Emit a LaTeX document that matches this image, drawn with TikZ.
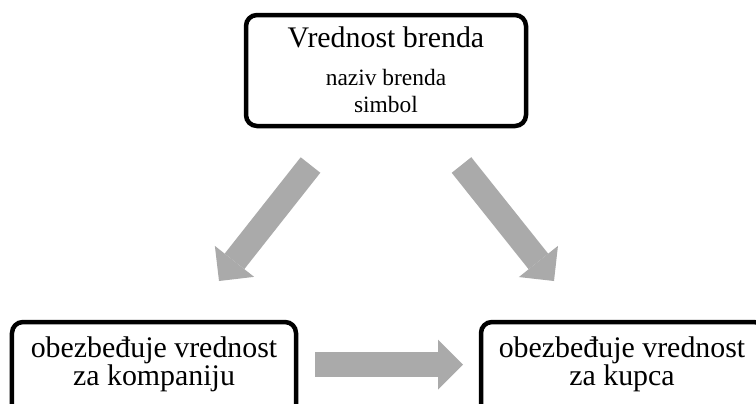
\documentclass[tikz,border=0pt]{standalone}
\usepackage{fontspec}
\setmainfont{Liberation Serif}
\usetikzlibrary{arrows.meta}
\definecolor{arrowgray}{RGB}{170,170,170}
\tikzset{
  box/.style={draw=black, line width=4.5bp, rounded corners=11bp, fill=white,
              minimum height=111bp, inner sep=0pt},
  bigtext/.style={anchor=base, inner sep=0pt, font=\fontsize{30}{36}\selectfont},
  smalltext/.style={anchor=base, inner sep=0pt, font=\fontsize{23.5}{28}\selectfont},
  blockarrow/.style={draw=arrowgray, line width=25bp,
              -{Triangle[length=25bp, width=50bp, line width=0pt]}}
}
\begin{document}
\begin{tikzpicture}[x=1bp, y=-1bp]
  \clip (0,0) rectangle (756,403);
  \fill[white] (0,0) rectangle (756,403);

  % boxes
  \node[box, minimum width=280bp] (brand) at (386,70.5) {};
  \node[box, minimum width=284bp] (company) at (154,377.5) {};
  \node[box, minimum width=284bp] (customer) at (623,377.5) {};

  % texts
  \node[bigtext] (brandTitle) at (386,47) {Vrednost brenda};
  \node[smalltext] (brandName) at (386,85) {naziv brenda};
  \node[smalltext] (brandSymbol) at (386,112) {simbol};

  \node[bigtext] (companyA) at (154,357) {obezbeđuje vrednost};
  \node[bigtext] (companyB) at (154,385) {za kompaniju};

  \node[bigtext] (customerA) at (622,357) {obezbeđuje vrednost};
  \node[bigtext] (customerB) at (622,385) {za kupca};

  % arrow end points
  \coordinate (leftTail) at (310.5,165);
  \coordinate (leftTip) at (219,281);
  \coordinate (rightTail) at (461.5,165);
  \coordinate (rightTip) at (554,281);
  \coordinate (midTail) at (315,364.5);
  \coordinate (midTip) at (463,364.5);

  % block arrows
  \draw[blockarrow] (leftTail) -- (leftTip);
  \draw[blockarrow] (rightTail) -- (rightTip);
  \draw[blockarrow] (midTail) -- (midTip);
\end{tikzpicture}
\end{document}
